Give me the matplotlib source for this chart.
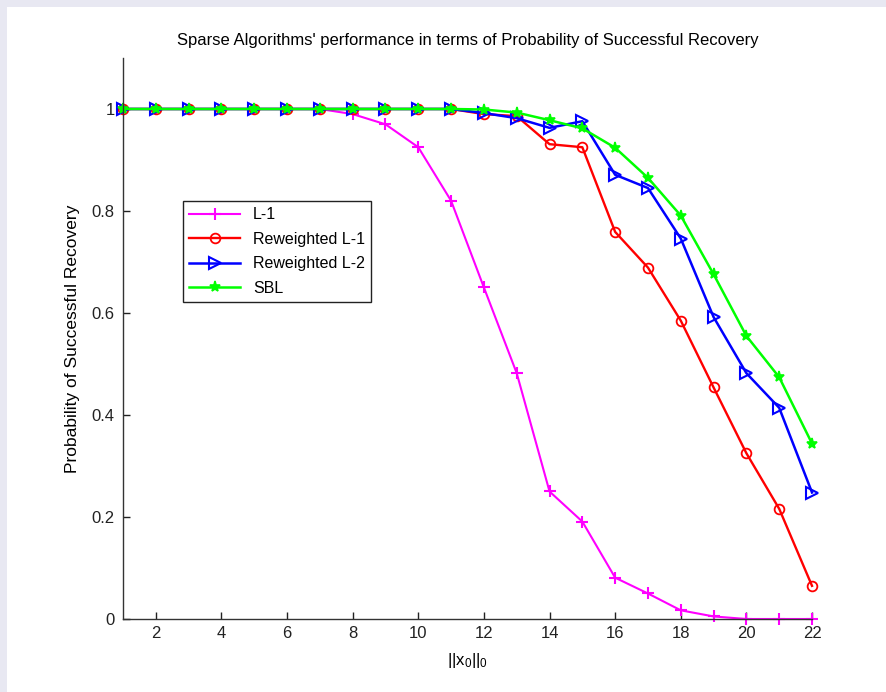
import matplotlib
matplotlib.use("Agg")
import matplotlib.pyplot as plt
from matplotlib.patches import Rectangle

# sparsity levels ||x0||_0
k = list(range(1, 23))

# probability of successful recovery
p_l1 = [1.0, 1.0, 1.0, 1.0, 1.0, 1.0, 1.0, 0.99, 0.97, 0.925, 0.82,
        0.65, 0.482, 0.25, 0.191, 0.081, 0.05, 0.017, 0.005, 0.0, 0.0, 0.0]
p_rw_l1 = [1.0, 1.0, 1.0, 1.0, 1.0, 1.0, 1.0, 1.0, 1.0, 1.0, 1.0,
           0.99, 0.986, 0.931, 0.925, 0.759, 0.689, 0.585, 0.454, 0.325, 0.216, 0.065]
p_rw_l2 = [1.0, 1.0, 1.0, 1.0, 1.0, 1.0, 1.0, 1.0, 1.0, 1.0, 1.0,
           0.992, 0.982, 0.963, 0.976, 0.871, 0.845, 0.746, 0.592, 0.482, 0.414, 0.248]
p_sbl = [1.0, 1.0, 1.0, 1.0, 1.0, 1.0, 1.0, 1.0, 1.0, 1.0, 1.0,
         0.999, 0.993, 0.978, 0.962, 0.924, 0.865, 0.791, 0.676, 0.555, 0.474, 0.344]

labels = ['L-1', 'Reweighted L-1', 'Reweighted L-2', 'SBL']
xticks = list(range(2, 23, 2))
yticks = [0, 0.2, 0.4, 0.6, 0.8, 1]
ytick_labels = ['0', '0.2', '0.4', '0.6', '0.8', '1']

plt.rcParams['font.family'] = ['Liberation Sans', 'DejaVu Sans']
plt.rcParams['mathtext.default'] = 'regular'

fig = plt.figure(figsize=(8.86, 6.92), dpi=100)
# light frame strip on the left and top, like the screenshot
fig.patches.append(Rectangle((0, 0), 7 / 886, 1, transform=fig.transFigure,
                             facecolor='#e8e8f2', edgecolor='none'))
fig.patches.append(Rectangle((0, 1 - 7 / 692), 1, 7 / 692, transform=fig.transFigure,
                             facecolor='#e8e8f2', edgecolor='none'))

ax = fig.add_axes([0.1388, 0.1055, 0.7777, 0.8107])

ax.plot(k, p_l1, color='#ff00ff', marker='+', ms=9, mew=1.5, lw=1.5,
        label=labels[0], clip_on=False)
ax.plot(k, p_rw_l1, color='#ff0000', marker='o', ms=7, mew=1.3, mfc='none', lw=1.7,
        label=labels[1], clip_on=False)
ax.plot(k, p_rw_l2, color='#0000ff', marker='>', ms=9, mew=1.5, mfc='none', lw=1.8,
        label=labels[2], clip_on=False)
ax.plot(k, p_sbl, color='#00ff00', marker='*', ms=8, mew=1.2, lw=1.8,
        label=labels[3], clip_on=False)

ax.set_xlim(1, 22)
ax.set_ylim(0, 1.1)
ax.set_xticks(xticks)
ax.set_yticks(yticks)
ax.set_yticklabels(ytick_labels)
ax.tick_params(direction='in', length=5, width=1, labelsize=12, colors='#222222', pad=5)
ax.tick_params(axis='y', pad=6)
ax.spines['top'].set_visible(False)
ax.spines['right'].set_visible(False)
for s in ('left', 'bottom'):
    ax.spines[s].set_color('#333333')
    ax.spines[s].set_linewidth(1.0)

ax.set_title("Sparse Algorithms' performance in terms of Probability of Successful Recovery",
             fontsize=12, pad=9)
ax.set_xlabel('||x$_0$||$_0$', fontsize=12, labelpad=7)
ax.set_ylabel('Probability of Successful Recovery', fontsize=12.5, labelpad=8)

leg = ax.legend(loc='upper left', bbox_to_anchor=(0.0866, 0.7456), fontsize=11.5,
                fancybox=False, framealpha=1, edgecolor='#222222',
                borderaxespad=0, handlelength=3.2, borderpad=0.4, labelspacing=0.6)
leg.get_frame().set_linewidth(1.0)

fig.savefig('out.png', dpi=100)
